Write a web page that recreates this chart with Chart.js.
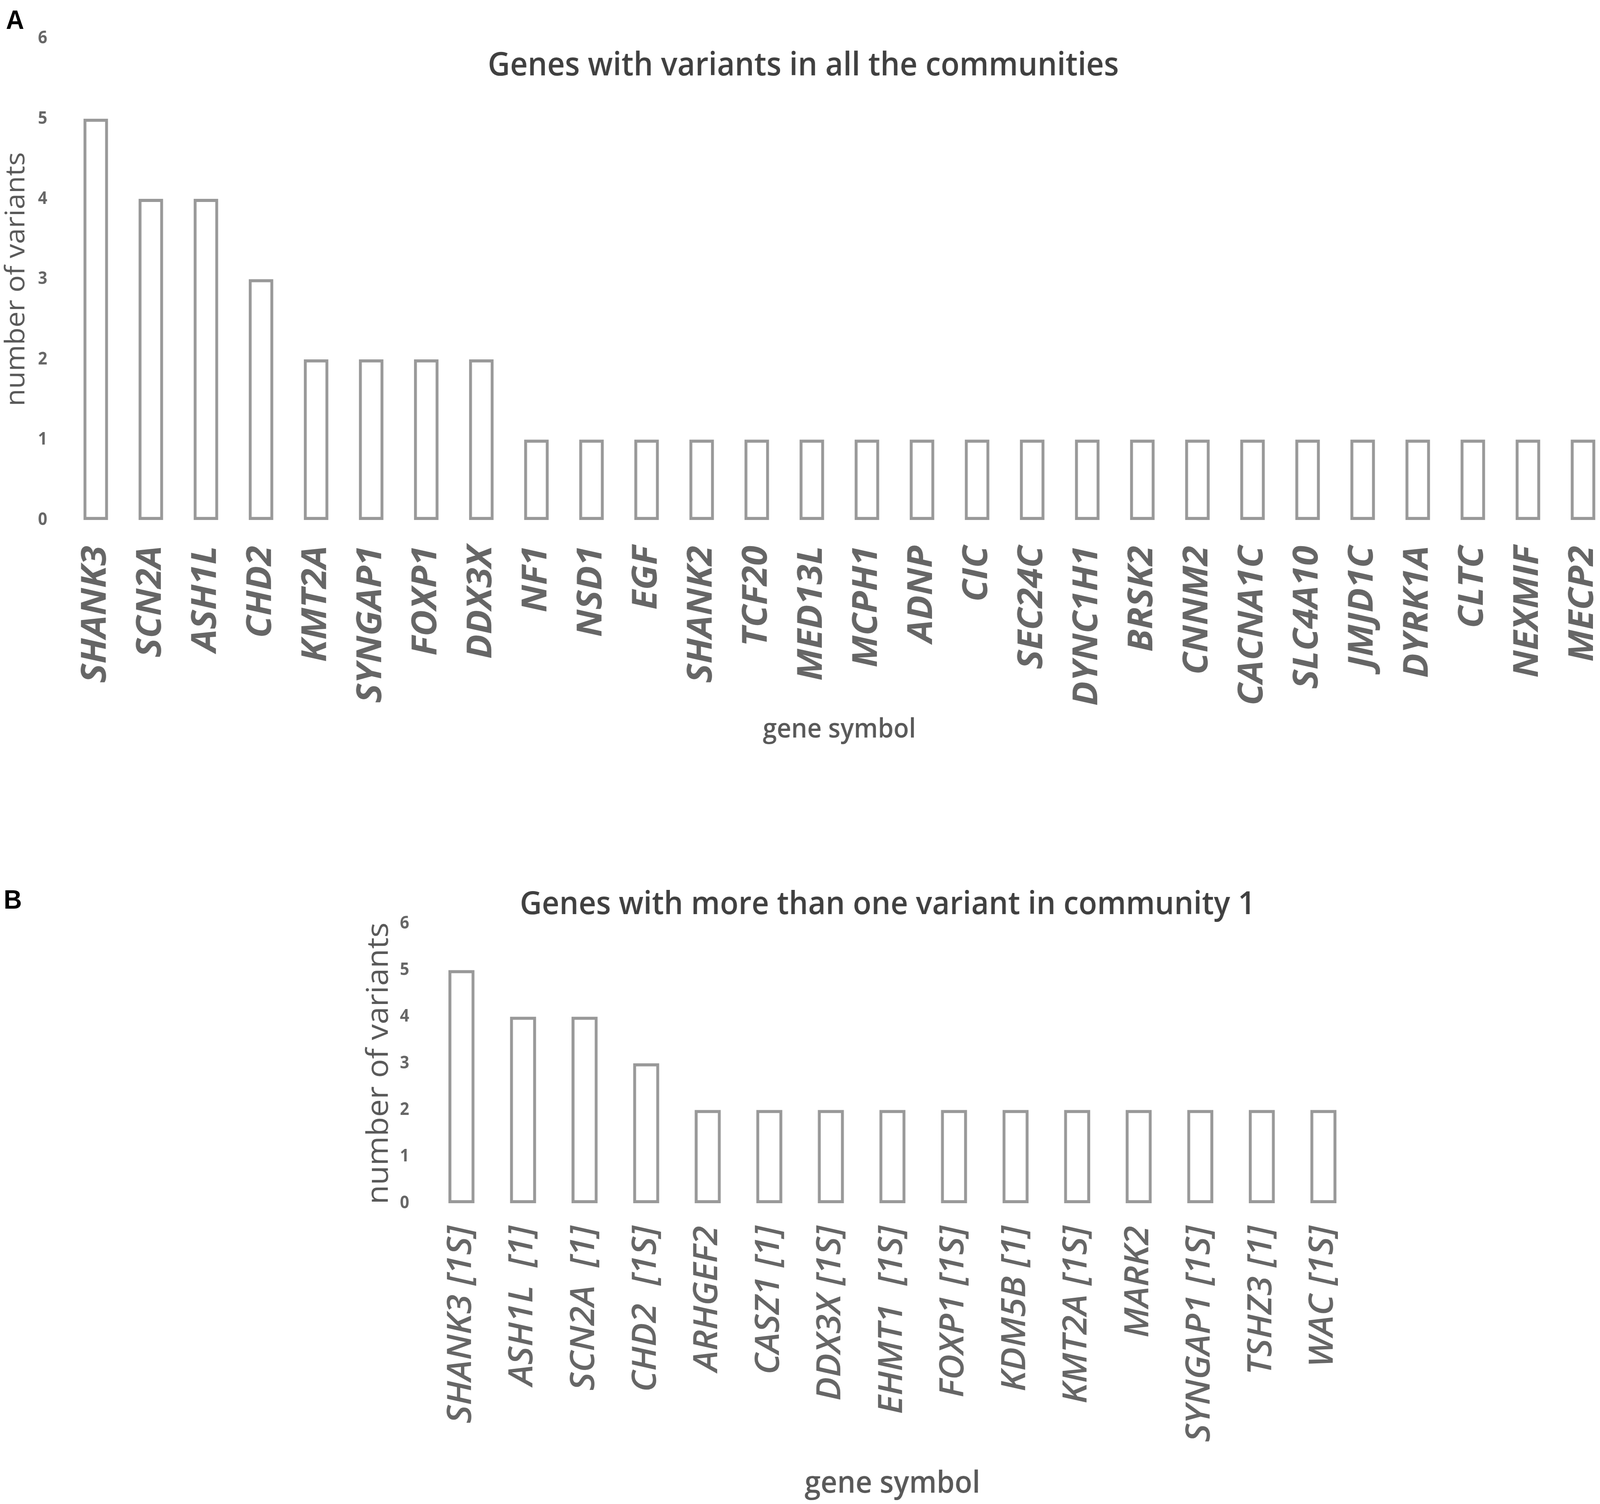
<!DOCTYPE html>
<html>
<head>
<meta charset="utf-8">
<script src="https://cdn.jsdelivr.net/npm/chart.js@4.4.1/dist/chart.umd.min.js"></script>
<style>
  html, body { margin: 0; padding: 0; background: #fff; overflow: hidden; }
  #page { position: relative; width: 4328px; height: 3850px; transform-origin: 0 0; }
  canvas { position: absolute; }
  #chartA { left: 0; top: 0; }
  #chartB { left: 960px; top: 2150px; }
  .panel { position: absolute; font-family: "Liberation Sans", Arial, sans-serif; font-weight: bold;
           font-size: 68px; line-height: 1; color: #000; }
</style>
</head>
<body>
<div id="page">
  <canvas id="chartA" width="4328" height="1930"></canvas>
  <canvas id="chartB" width="2792" height="1702"></canvas>
  <div class="panel" style="left:16px; top:16px;">A</div>
  <div class="panel" style="left:10px; top:2268px;">B</div>
</div>
<script>
// panel A: genes with variants in all the communities
const genesA = ['SHANK3', 'SCN2A', 'ASH1L', 'CHD2', 'KMT2A', 'SYNGAP1', 'FOXP1', 'DDX3X',
  'NF1', 'NSD1', 'EGF', 'SHANK2', 'TCF20', 'MED13L', 'MCPH1', 'ADNP', 'CIC', 'SEC24C',
  'DYNC1H1', 'BRSK2', 'CNNM2', 'CACNA1C', 'SLC4A10', 'JMJD1C', 'DYRK1A', 'CLTC', 'NEXMIF', 'MECP2'];
const variantsA = [5, 4, 4, 3, 2, 2, 2, 2, 1, 1, 1, 1, 1, 1, 1, 1, 1, 1, 1, 1, 1, 1, 1, 1, 1, 1, 1, 1];

// panel B: genes with more than one variant in community 1
const genesB = ['SHANK3 [1S]', 'ASH1L  [1]', 'SCN2A  [1]', 'CHD2  [1S]', 'ARHGEF2', 'CASZ1 [1]',
  'DDX3X [1S]', 'EHMT1  [1S]', 'FOXP1 [1S]', 'KDM5B [1]', 'KMT2A [1S]', 'MARK2',
  'SYNGAP1 [1S]', 'TSHZ3 [1]', 'WAC [1S]'];
const variantsB = [5, 4, 4, 3, 2, 2, 2, 2, 2, 2, 2, 2, 2, 2, 2];

const yTicks = [0, 1, 2, 3, 4, 5, 6];

const titleA = 'Genes with variants in all the communities';
const titleB = 'Genes with more than one variant in community 1';

// page is laid out at 4328x3850, fit it into whatever viewport we get
const kx = window.innerWidth / 4328;
const ky = window.innerHeight / 3850;
document.getElementById('page').style.transform = 'scale(' + kx + ',' + ky + ')';

Chart.defaults.font.family = '"Open Sans", "Liberation Sans", sans-serif';

const barGray = '#999999';

function yAxis(width, tickPad, titleSize, titlePad) {
    return {
        min: 0,
        max: 6,
        afterBuildTicks: (scale) => { scale.ticks = yTicks.map(v => ({ value: v })); },
        ticks: {
            padding: tickPad,
            color: '#666666',
            font: { size: 44, weight: 'bold' }
        },
        grid: { display: false, drawTicks: false },
        border: { display: false },
        title: {
            display: true,
            text: 'number of variants',
            color: '#595959',
            font: { size: titleSize, weight: 'normal' },
            padding: { top: titlePad, bottom: 0 }
        },
        afterFit: (scale) => {
            scale.width = width;
            scale.paddingTop = 0;
            scale.paddingBottom = 0;
        }
    };
}

function xAxis(height, offset, tickPad, tickSize, tickWeight, titleSize, titlePadBottom) {
    return {
        offset: offset,
        grid: { display: false, drawTicks: false },
        border: { display: false },
        ticks: {
            autoSkip: false,
            maxRotation: 90,
            minRotation: 90,
            padding: tickPad,
            color: '#666666',
            font: { size: tickSize, weight: tickWeight, style: 'italic' }
        },
        title: {
            display: true,
            text: 'gene symbol',
            color: '#595959',
            font: { size: titleSize, weight: '600' },
            padding: { top: 0, bottom: titlePadBottom }
        },
        afterFit: (scale) => {
            scale.height = height;
            scale.paddingLeft = 0;
            scale.paddingRight = 0;
        }
    };
}

new Chart(document.getElementById('chartA'), {
    type: 'bar',
    data: {
        labels: genesA,
        datasets: [{
            data: variantsA,
            backgroundColor: '#ffffff',
            borderColor: barGray,
            borderWidth: 8,
            borderSkipped: false,
            barThickness: 66,
            clip: false
        }]
    },
    options: {
        responsive: false,
        animation: false,
        devicePixelRatio: 1,
        layout: { padding: { left: 64, right: 46, top: 0, bottom: 0 } },
        plugins: {
            legend: { display: false },
            tooltip: { enabled: false },
            title: {
                display: true,
                text: titleA,
                color: '#404040',
                font: { size: 83, weight: '600' },
                padding: { top: 120, bottom: -121 }
            }
        },
        scales: {
            x: xAxis(599, false, 66, 93, 'bold', 68, 21),
            y: yAxis(195, 131, 73, -63)
        }
    }
});

new Chart(document.getElementById('chartB'), {
    type: 'bar',
    data: {
        labels: genesB,
        datasets: [{
            data: variantsB,
            backgroundColor: '#ffffff',
            borderColor: barGray,
            borderWidth: 8,
            borderSkipped: false,
            barThickness: 70
        }]
    },
    options: {
        responsive: false,
        animation: false,
        devicePixelRatio: 1,
        layout: { padding: { left: 90, right: 0, top: 0, bottom: 0 } },
        plugins: {
            legend: { display: false },
            tooltip: { enabled: false },
            title: {
                display: true,
                text: titleB,
                color: '#404040',
                font: { size: 82, weight: '600' },
                padding: { top: 117, bottom: -1 }
            }
        },
        scales: {
            x: xAxis(772, true, 58, 90, '600', 78, 6),
            y: yAxis(115, 58, 81, -73),
            // empty axis on the right, only keeps the title centred like the original
            spacer: {
                type: 'linear',
                axis: 'y',
                position: 'right',
                grid: { display: false, drawTicks: false },
                border: { display: false },
                ticks: { display: false },
                afterFit: (scale) => {
                    scale.width = 89;
                    scale.paddingTop = 0;
                    scale.paddingBottom = 0;
                }
            }
        }
    }
});
</script>
</body>
</html>
